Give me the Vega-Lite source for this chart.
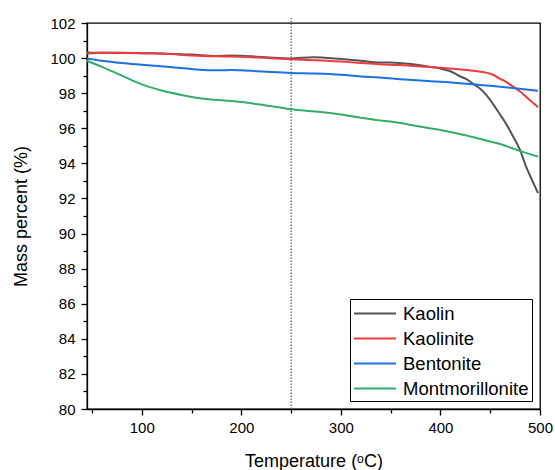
{
  "$schema": "https://vega.github.io/schema/vega-lite/v6.json",
  "width": 453,
  "height": 386,
  "autosize": {"type": "none"},
  "padding": {"left": 87, "top": 23, "right": 15, "bottom": 61},
  "config": {
    "font": "Liberation Sans",
    "view": {"stroke": "#000", "strokeWidth": 1.3},
    "axis": {
      "grid": false,
      "domainColor": "#000",
      "domainWidth": 1.3,
      "tickColor": "#000",
      "tickWidth": 1.3,
      "labelColor": "#000",
      "labelFontSize": 15,
      "labelFont": "Liberation Sans",
      "titleColor": "#000",
      "titleFontSize": 18,
      "titleFontWeight": "normal",
      "titleFont": "Liberation Sans"
    }
  },
  "layer": [
    {
      "data": {"values": [{"ref": 250}]},
      "mark": {"type": "rule", "strokeDash": [1.5, 1.5], "color": "#333", "strokeWidth": 1, "clip": false},
      "encoding": {
        "x": {"field": "ref", "type": "quantitative"},
        "y": {"datum": 80, "type": "quantitative"},
        "y2": {"datum": 102.3}
      }
    },
    {
      "data": {
        "values": [
          {"T": 45, "v": 100.32, "s": "Kaolin"},
          {"T": 60, "v": 100.3, "s": "Kaolin"},
          {"T": 80, "v": 100.3, "s": "Kaolin"},
          {"T": 100, "v": 100.28, "s": "Kaolin"},
          {"T": 125, "v": 100.25, "s": "Kaolin"},
          {"T": 150, "v": 100.2, "s": "Kaolin"},
          {"T": 175, "v": 100.12, "s": "Kaolin"},
          {"T": 190, "v": 100.15, "s": "Kaolin"},
          {"T": 200, "v": 100.13, "s": "Kaolin"},
          {"T": 225, "v": 100.05, "s": "Kaolin"},
          {"T": 250, "v": 99.98, "s": "Kaolin"},
          {"T": 272, "v": 100.05, "s": "Kaolin"},
          {"T": 300, "v": 99.95, "s": "Kaolin"},
          {"T": 320, "v": 99.85, "s": "Kaolin"},
          {"T": 339, "v": 99.75, "s": "Kaolin"},
          {"T": 350, "v": 99.75, "s": "Kaolin"},
          {"T": 372, "v": 99.65, "s": "Kaolin"},
          {"T": 390, "v": 99.5, "s": "Kaolin"},
          {"T": 399, "v": 99.42, "s": "Kaolin"},
          {"T": 410, "v": 99.25, "s": "Kaolin"},
          {"T": 419, "v": 98.98, "s": "Kaolin"},
          {"T": 426, "v": 98.8, "s": "Kaolin"},
          {"T": 433, "v": 98.53, "s": "Kaolin"},
          {"T": 440, "v": 98.25, "s": "Kaolin"},
          {"T": 446, "v": 97.9, "s": "Kaolin"},
          {"T": 452, "v": 97.45, "s": "Kaolin"},
          {"T": 459, "v": 96.86, "s": "Kaolin"},
          {"T": 466, "v": 96.25, "s": "Kaolin"},
          {"T": 473, "v": 95.53, "s": "Kaolin"},
          {"T": 480, "v": 94.75, "s": "Kaolin"},
          {"T": 486, "v": 93.82, "s": "Kaolin"},
          {"T": 492, "v": 93.05, "s": "Kaolin"},
          {"T": 498, "v": 92.3, "s": "Kaolin"},

          {"T": 45, "v": 100.25, "s": "Kaolinite"},
          {"T": 60, "v": 100.3, "s": "Kaolinite"},
          {"T": 100, "v": 100.28, "s": "Kaolinite"},
          {"T": 125, "v": 100.25, "s": "Kaolinite"},
          {"T": 150, "v": 100.15, "s": "Kaolinite"},
          {"T": 175, "v": 100.1, "s": "Kaolinite"},
          {"T": 200, "v": 100.08, "s": "Kaolinite"},
          {"T": 225, "v": 100.0, "s": "Kaolinite"},
          {"T": 250, "v": 99.93, "s": "Kaolinite"},
          {"T": 275, "v": 99.88, "s": "Kaolinite"},
          {"T": 300, "v": 99.8, "s": "Kaolinite"},
          {"T": 320, "v": 99.72, "s": "Kaolinite"},
          {"T": 339, "v": 99.65, "s": "Kaolinite"},
          {"T": 360, "v": 99.6, "s": "Kaolinite"},
          {"T": 380, "v": 99.52, "s": "Kaolinite"},
          {"T": 400, "v": 99.45, "s": "Kaolinite"},
          {"T": 419, "v": 99.36, "s": "Kaolinite"},
          {"T": 435, "v": 99.27, "s": "Kaolinite"},
          {"T": 446, "v": 99.17, "s": "Kaolinite"},
          {"T": 453, "v": 99.05, "s": "Kaolinite"},
          {"T": 459, "v": 98.85, "s": "Kaolinite"},
          {"T": 466, "v": 98.65, "s": "Kaolinite"},
          {"T": 473, "v": 98.37, "s": "Kaolinite"},
          {"T": 480, "v": 98.1, "s": "Kaolinite"},
          {"T": 486, "v": 97.8, "s": "Kaolinite"},
          {"T": 492, "v": 97.5, "s": "Kaolinite"},
          {"T": 498, "v": 97.2, "s": "Kaolinite"},

          {"T": 45, "v": 99.98, "s": "Bentonite"},
          {"T": 60, "v": 99.85, "s": "Bentonite"},
          {"T": 80, "v": 99.72, "s": "Bentonite"},
          {"T": 100, "v": 99.62, "s": "Bentonite"},
          {"T": 125, "v": 99.5, "s": "Bentonite"},
          {"T": 150, "v": 99.38, "s": "Bentonite"},
          {"T": 175, "v": 99.3, "s": "Bentonite"},
          {"T": 190, "v": 99.32, "s": "Bentonite"},
          {"T": 200, "v": 99.3, "s": "Bentonite"},
          {"T": 225, "v": 99.22, "s": "Bentonite"},
          {"T": 250, "v": 99.15, "s": "Bentonite"},
          {"T": 275, "v": 99.12, "s": "Bentonite"},
          {"T": 300, "v": 99.05, "s": "Bentonite"},
          {"T": 320, "v": 98.95, "s": "Bentonite"},
          {"T": 330, "v": 98.92, "s": "Bentonite"},
          {"T": 339, "v": 98.9, "s": "Bentonite"},
          {"T": 360, "v": 98.8, "s": "Bentonite"},
          {"T": 380, "v": 98.72, "s": "Bentonite"},
          {"T": 400, "v": 98.65, "s": "Bentonite"},
          {"T": 429, "v": 98.53, "s": "Bentonite"},
          {"T": 450, "v": 98.42, "s": "Bentonite"},
          {"T": 475, "v": 98.28, "s": "Bentonite"},
          {"T": 498, "v": 98.14, "s": "Bentonite"},

          {"T": 45, "v": 99.85, "s": "Montmorillonite"},
          {"T": 60, "v": 99.5, "s": "Montmorillonite"},
          {"T": 80, "v": 99.0, "s": "Montmorillonite"},
          {"T": 100, "v": 98.5, "s": "Montmorillonite"},
          {"T": 120, "v": 98.15, "s": "Montmorillonite"},
          {"T": 140, "v": 97.9, "s": "Montmorillonite"},
          {"T": 160, "v": 97.7, "s": "Montmorillonite"},
          {"T": 180, "v": 97.6, "s": "Montmorillonite"},
          {"T": 200, "v": 97.5, "s": "Montmorillonite"},
          {"T": 225, "v": 97.3, "s": "Montmorillonite"},
          {"T": 239, "v": 97.18, "s": "Montmorillonite"},
          {"T": 250, "v": 97.08, "s": "Montmorillonite"},
          {"T": 275, "v": 96.95, "s": "Montmorillonite"},
          {"T": 300, "v": 96.78, "s": "Montmorillonite"},
          {"T": 320, "v": 96.6, "s": "Montmorillonite"},
          {"T": 339, "v": 96.45, "s": "Montmorillonite"},
          {"T": 350, "v": 96.38, "s": "Montmorillonite"},
          {"T": 379, "v": 96.1, "s": "Montmorillonite"},
          {"T": 400, "v": 95.9, "s": "Montmorillonite"},
          {"T": 425, "v": 95.6, "s": "Montmorillonite"},
          {"T": 446, "v": 95.3, "s": "Montmorillonite"},
          {"T": 460, "v": 95.1, "s": "Montmorillonite"},
          {"T": 480, "v": 94.7, "s": "Montmorillonite"},
          {"T": 498, "v": 94.39, "s": "Montmorillonite"}
        ]
      },
      "mark": {"type": "line", "strokeWidth": 2, "interpolate": "monotone"},
      "encoding": {
        "x": {
          "field": "T",
          "type": "quantitative",
          "scale": {"domain": [45, 500], "nice": false, "zero": false},
          "axis": {
            "title": "Temperature (ᵒC)",
            "values": [50, 100, 150, 200, 250, 300, 350, 400, 450, 500],
            "tickCount": 40,
            "format": "d",
            "labelExpr": "datum.value % 100 === 0 ? datum.label : ''",
            "tickSize": {"condition": {"test": "datum.value % 100 === 0", "value": 6}, "value": 4},
            "labelPadding": 5,
            "titlePadding": 17,
            "labelFlush": false,
            "labelOverlap": false
          }
        },
        "y": {
          "field": "v",
          "type": "quantitative",
          "scale": {"domain": [80, 102], "nice": false, "zero": false},
          "axis": {
            "title": "Mass percent (%)",
            "values": [80, 81, 82, 83, 84, 85, 86, 87, 88, 89, 90, 91, 92, 93, 94, 95, 96, 97, 98, 99, 100, 101, 102],
            "tickCount": 40,
            "format": "d",
            "labelExpr": "datum.value % 2 === 0 ? datum.label : ''",
            "tickSize": {"condition": {"test": "datum.value % 2 === 0", "value": 6}, "value": 4},
            "labelPadding": 6,
            "titlePadding": 19,
            "labelFlush": false,
            "labelOverlap": false
          }
        },
        "color": {
          "field": "s",
          "type": "nominal",
          "sort": ["Kaolin", "Kaolinite", "Bentonite", "Montmorillonite"],
          "scale": {
            "domain": ["Kaolin", "Kaolinite", "Bentonite", "Montmorillonite"],
            "range": ["#555555", "#ef3b3b", "#1f6fe5", "#33ad68"]
          },
          "legend": {
            "title": null,
            "orient": "bottom-right",
            "offset": 8,
            "strokeColor": "#000",
            "fillColor": "#fff",
            "padding": 3,
            "symbolType": "M-1,0H3",
            "symbolSize": 441,
            "symbolStrokeWidth": 2,
            "labelFontSize": 18.5,
            "labelColor": "#000",
            "labelFont": "Liberation Sans",
            "labelLimit": 300,
            "rowPadding": 4,
            "labelOffset": 27
          }
        }
      }
    }
  ]
}
